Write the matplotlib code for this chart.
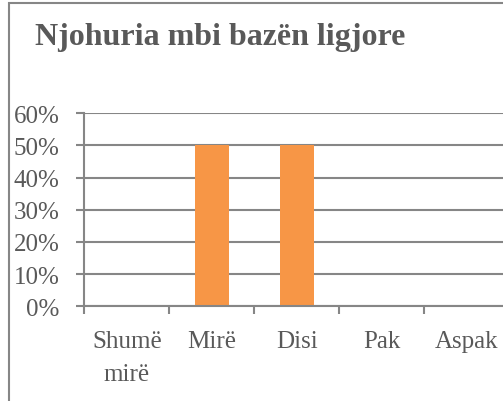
import matplotlib
matplotlib.use("Agg")
import matplotlib.pyplot as plt
from matplotlib.patches import Rectangle
from matplotlib.ticker import FixedLocator, PercentFormatter

# ------------------------------------------------------------------------------
# Data.
# ------------------------------------------------------------------------------

categories = ["Shumë\nmirë", "Mirë", "Disi", "Pak", "Aspak"]
values = [0.0, 0.5, 0.5, 0.0, 0.0]
y_ticks = [0.0, 0.1, 0.2, 0.3, 0.4, 0.5, 0.6]
title = "Njohuria mbi bazën ligjore"

BAR_COLOR = "#F79646"
GRID_COLOR = "#868686"
TEXT_COLOR = "#595959"
W, H = 503, 402

plt.rcParams["font.family"] = ["Liberation Serif", "DejaVu Serif"]

fig = plt.figure(figsize=(W / 100, H / 100), dpi=100)

# Chart area border (cropped on the right and bottom in the reference).
fig.patches.append(
    Rectangle((8.5 / W, -0.05), 1.2, 1 - 4 / H + 0.05,
              transform=fig.transFigure, fill=False,
              edgecolor=GRID_COLOR, linewidth=1.5)
)

fig.text(35 / W, 1 - 45 / H, title, fontsize=23, fontweight="bold",
         color=TEXT_COLOR, va="baseline", ha="left")

# Plot area in pixel coords: x 84..509, y 114..307.
ax = fig.add_axes([84.3 / W, (H - 307.3) / H, 425 / W, 193 / H])
x = range(len(categories))
ax.bar(x, values, width=0.4, color=BAR_COLOR, zorder=3)

ax.set_xlim(-0.5, len(categories) - 0.5)
ax.set_ylim(0, 0.6)
ax.set_yticks(y_ticks)
ax.yaxis.set_major_formatter(PercentFormatter(1.0, decimals=0))
ax.grid(axis="y", color=GRID_COLOR, linewidth=1.5, zorder=0)

# Category boundaries carry the tick marks, centres carry the labels.
ax.xaxis.set_major_locator(FixedLocator([i - 0.5 for i in range(len(categories) + 1)]))
ax.xaxis.set_major_formatter(plt.NullFormatter())
ax.set_xticks(list(x), minor=True)
ax.set_xticklabels(categories, minor=True, linespacing=1.65)
ax.tick_params(axis="x", which="major", length=6, width=1.5, color=GRID_COLOR,
               direction="out")
ax.tick_params(axis="x", which="minor", length=0, pad=17, labelsize=18,
               labelcolor=TEXT_COLOR)
ax.tick_params(axis="y", length=6, width=1.5, color=GRID_COLOR, pad=12,
               labelsize=18, labelcolor=TEXT_COLOR)

for side in ["top", "right"]:
    ax.spines[side].set_visible(False)
for side in ["left", "bottom"]:
    ax.spines[side].set_color(GRID_COLOR)
    ax.spines[side].set_linewidth(1.5)
    ax.spines[side].set_zorder(4)

fig.savefig("out.png", dpi=100)
